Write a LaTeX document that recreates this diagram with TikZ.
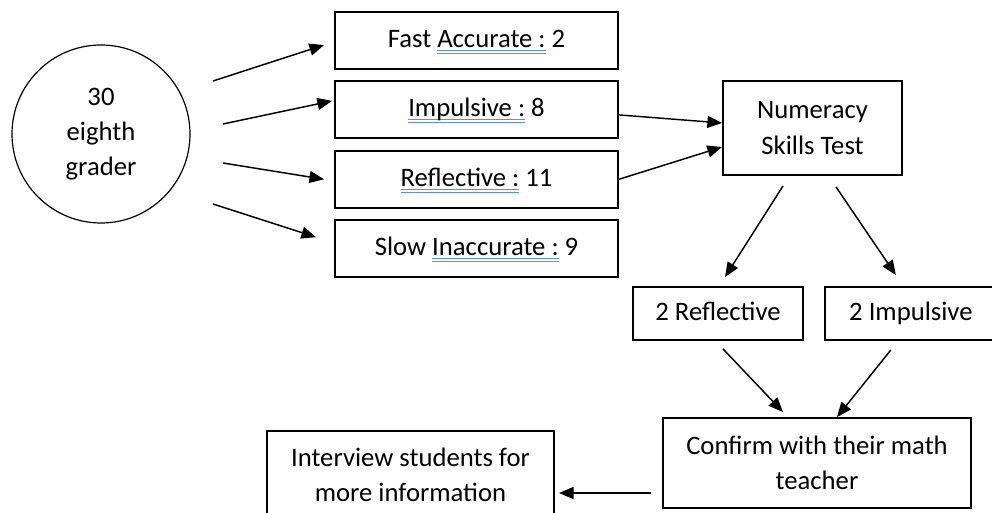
\documentclass[tikz,border=0pt]{standalone}
\usepackage{fontspec}
\setmainfont{Carlito}
\usetikzlibrary{arrows.meta,positioning,calc}
\definecolor{spellblue}{RGB}{95,140,225}
\newcommand{\spell}[1]{\setbox0=\hbox{#1}\rlap{\color{spellblue}\rule[-2.2pt]{\wd0}{0.5pt}}\rlap{\color{spellblue}\rule[-4.4pt]{\wd0}{0.5pt}}\box0\relax}

\begin{document}
\begin{tikzpicture}[x=0.75pt, y=-0.75pt, node distance=7.9pt,
    font=\fontsize{20pt}{26.5pt}\selectfont,
    box/.style={rectangle, draw, line width=1.4pt, align=center, inner sep=0pt},
    oneline/.style={box, execute at begin node=\strut},
    group/.style={oneline, minimum width=212.25pt, minimum height=42.75pt},
    arr/.style={-{Triangle[length=11pt,width=9pt]}, line width=1.1pt}]
    \useasboundingbox (0,0) rectangle (992,513);
    \clip (0,0) rectangle (992,513);

    % Students
    \node [circle, draw, line width=0.9pt, minimum size=133.5pt, inner sep=0pt, align=center] (pupils) at (101,134) {30\\eighth\\grader};

    % Cognitive style groups
    \node [group] (fastacc) at (476.5,40.5) {Fast \spell{Accurate :} 2};
    \node [group, below=of fastacc] (impuls) {\spell{Impulsive :} 8};
    \node [group, below=of impuls] (reflect) {\spell{Reflective :} 11};
    \node [group, below=of reflect] (slowinacc) {Slow \spell{Inaccurate :} 9};

    % Test
    \node [box, minimum width=134.25pt, minimum height=70.5pt] (numeracy) at (812.5,128) {Numeracy\\Skills Test};

    % Selected subjects
    \node [oneline, minimum width=127.5pt, minimum height=39.75pt] (refltwo) at (718,313.5) {2 Reflective};
    \node [oneline, minimum width=129pt, minimum height=39.75pt, right=15pt of refltwo] (imptwo) {2 Impulsive};

    % Follow-up
    \node [box, minimum width=231pt, minimum height=67.5pt] (confirm) at (817,463) {Confirm with their math\\teacher};
    \node [box, minimum width=215.25pt, minimum height=66pt] (interview) at (410.5,475) {Interview students for\\more information};

    % Arrows
    \draw [arr] ($(pupils.center)+(112,-53)$) -- ($(fastacc.west)+(-10,4.5)$);
    \draw [arr] ($(pupils.center)+(122,-10)$) -- ($(impuls.west)+(-2,-9)$);
    \draw [arr] ($(pupils.center)+(122,29)$) -- ($(reflect.west)+(-10,0)$);
    \draw [arr] ($(pupils.center)+(112,70)$) -- ($(slowinacc.west)+(-18,-11.5)$);
    \draw [arr] ($(impuls.east)+(0,5)$) -- ($(numeracy.west)+(0,-5)$);
    \draw [arr] (reflect.east) -- ($(numeracy.west)+(0,19)$);
    \draw [arr] ($(numeracy.south)+(-29.5,10)$) -- ($(refltwo.north)+(7,-9)$);
    \draw [arr] ($(numeracy.south)+(23.5,11)$) -- ($(imptwo.north)+(-15,-11)$);
    \draw [arr] ($(refltwo.south)+(5,8)$) -- ($(confirm.north)+(-34,-5)$);
    \draw [arr] ($(imptwo.south)+(-20,9)$) -- ($(confirm.north)+(20,0)$);
    \draw [arr] ($(confirm.west)+(-11,30)$) -- ($(interview.east)+(4,18)$);
\end{tikzpicture}
\end{document}
